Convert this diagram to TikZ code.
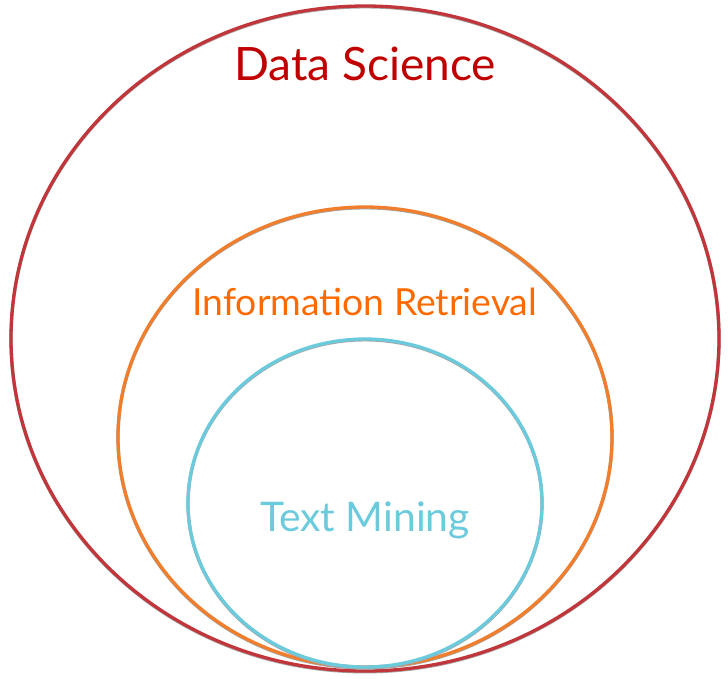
\documentclass[tikz,border=0pt]{standalone}
\usepackage{fontspec}
\setmainfont{Lato}
\usetikzlibrary{shapes.geometric}

\definecolor{dsline}{HTML}{C0363A}
\definecolor{dstext}{HTML}{C00000}
\definecolor{irline}{HTML}{F07E2C}
\definecolor{irtext}{HTML}{FF6A00}
\definecolor{tmline}{HTML}{6CCADD}

\begin{document}
\begin{tikzpicture}[x=1pt,y=-1pt]
    \tikzstyle{every node}=[inner sep=0pt]
    \tikzstyle{set}=[
        draw,
        shape=ellipse,
        line width=3.3pt,
        preaction={draw=black!35,line width=3.3pt,transform canvas={yshift=-0.8pt}}]
    \tikzstyle{label}=[anchor=base]

    \useasboundingbox (0,0) rectangle (728,678);
    \node[set,dsline,minimum width=708pt,minimum height=665pt] (ds) at (365,338.5) {};
    \node[set,irline,minimum width=494pt,minimum height=460pt] (ir) at (365,437) {};
    \node[set,tmline,minimum width=354pt,minimum height=328pt] (tm) at (365,503) {};

    \node[label,text=dstext,font=\fontsize{46}{50}\selectfont] (dsl) at (365,80) {Data Science};
    \node[label,text=irtext,font=\fontsize{37.3}{41}\selectfont] (irl) at (365,315) {Information Retrieval};
    \node[label,text=tmline,font=\fontsize{40.8}{44}\selectfont] (tml) at (365,531) {Text Mining};
\end{tikzpicture}
\end{document}
